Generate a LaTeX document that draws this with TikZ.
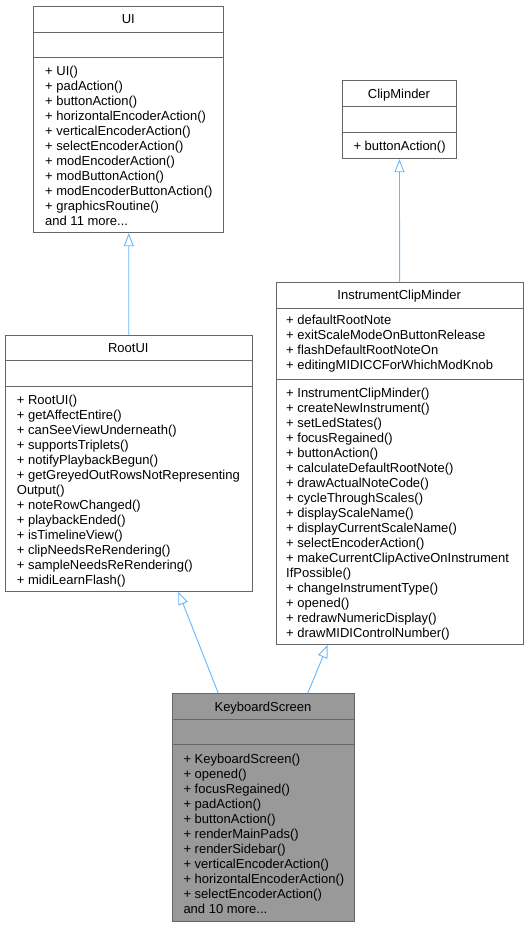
\documentclass[tikz,border=0pt]{standalone}
\usepackage{fontspec}
\setmainfont{Liberation Sans}
\usetikzlibrary{arrows.meta}
\definecolor{boxline}{HTML}{666666}
\definecolor{edgeblue}{HTML}{63B8FF}
\definecolor{ksfill}{HTML}{999999}
\begin{document}
\begin{tikzpicture}[x=1pt,y=-1pt,
  cls/.style={draw=boxline,line width=0.9pt,fill=white,inner sep=0pt,anchor=north west},
  divider/.style={draw=boxline,line width=0.9pt},
  title/.style={font=\fontsize{13}{15}\selectfont,inner sep=0pt,text height=9.5pt,text depth=2.7pt},
  members/.style={font=\fontsize{13}{15}\selectfont,inner sep=0pt,anchor=north west,align=left},
  inh/.style={draw=edgeblue,line width=0.9pt,-{Triangle[open,length=13pt,width=10pt]}}]
\useasboundingbox[fill=white] (0,0) rectangle (528,927);
\newcommand{\fl}{\rule{0pt}{10pt}}
% UI
\node[cls,minimum width=190pt,minimum height=226.6pt] (ui) at (33.3,5.7) {};
\draw[divider] (ui.west |- 0,32) -- (ui.east |- 0,32);
\draw[divider] (ui.west |- 0,57.3) -- (ui.east |- 0,57.3);
\node[title] (uit) at (128.3,20.2) {UI};
\node[members] (uim) at (45,65) {\fl+ UI()\\+ padAction()\\+ buttonAction()\\+ horizontalEncoderAction()\\+ verticalEncoderAction()\\+ selectEncoderAction()\\+ modEncoderAction()\\+ modButtonAction()\\+ modEncoderButtonAction()\\+ graphicsRoutine()\\and 11 more...};
% ClipMinder
\node[cls,minimum width=114.6pt,minimum height=78.3pt] (cm) at (341.7,80) {};
\draw[divider] (cm.west |- 0,106.7) -- (cm.east |- 0,106.7);
\draw[divider] (cm.west |- 0,132) -- (cm.east |- 0,132);
\node[title] (cmt) at (399,94.7) {ClipMinder};
\node[members] (cmm) at (353.3,140) {\fl+ buttonAction()};
% RootUI
\node[cls,minimum width=246.7pt,minimum height=256pt] (rootui) at (5,334.7) {};
\draw[divider] (rootui.west |- 0,360.7) -- (rootui.east |- 0,360.7);
\draw[divider] (rootui.west |- 0,386) -- (rootui.east |- 0,386);
\node[title] (rootuit) at (128.3,349) {RootUI};
\node[members] (rootuim) at (16.7,394) {\fl+ RootUI()\\+ getAffectEntire()\\+ canSeeViewUnderneath()\\+ supportsTriplets()\\+ notifyPlaybackBegun()\\+ getGreyedOutRowsNotRepresenting\\Output()\\+ noteRowChanged()\\+ playbackEnded()\\+ isTimelineView()\\+ clipNeedsReRendering()\\+ sampleNeedsReRendering()\\+ midiLearnFlash()};
% InstrumentClipMinder
\node[cls,minimum width=247pt,minimum height=362pt] (icm) at (275.7,282) {};
\draw[divider] (icm.west |- 0,308.3) -- (icm.east |- 0,308.3);
\draw[divider] (icm.west |- 0,379.3) -- (icm.east |- 0,379.3);
\node[title] (icmt) at (399.2,296.5) {InstrumentClipMinder};
\node[members] (icma) at (286,314) {\fl+ defaultRootNote\\+ exitScaleModeOnButtonRelease\\+ flashDefaultRootNoteOn\\+ editingMIDICCForWhichModKnob};
\node[members] (icmm) at (286,387.3) {\fl+ InstrumentClipMinder()\\+ createNewInstrument()\\+ setLedStates()\\+ focusRegained()\\+ buttonAction()\\+ calculateDefaultRootNote()\\+ drawActualNoteCode()\\+ cycleThroughScales()\\+ displayScaleName()\\+ displayCurrentScaleName()\\+ selectEncoderAction()\\+ makeCurrentClipActiveOnInstrument\\IfPossible()\\+ changeInstrumentType()\\+ opened()\\+ redrawNumericDisplay()\\+ drawMIDIControlNumber()};
% KeyboardScreen
\node[cls,fill=ksfill,minimum width=182.6pt,minimum height=227.4pt] (ks) at (171.7,693.3) {};
\draw[divider] (ks.west |- 0,719.3) -- (ks.east |- 0,719.3);
\draw[divider] (ks.west |- 0,744.3) -- (ks.east |- 0,744.3);
\node[title] (kst) at (263,707.6) {KeyboardScreen};
\node[members] (ksm) at (183.3,753) {\fl+ KeyboardScreen()\\+ opened()\\+ focusRegained()\\+ padAction()\\+ buttonAction()\\+ renderMainPads()\\+ renderSidebar()\\+ verticalEncoderAction()\\+ horizontalEncoderAction()\\+ selectEncoderAction()\\and 10 more...};
% inheritance
\draw[inh] (rootui.north) -- (ui.south);
\draw[inh] (icm.north) -- (cm.south);
\coordinate (k1) at ([xshift=46.6pt]ks.north west);
\coordinate (r1) at ([xshift=173.3pt]rootui.south west);
\coordinate (k2) at ([xshift=136pt]ks.north west);
\coordinate (i2) at ([xshift=52pt]icm.south west);
\draw[inh] (k1) -- (r1);
\draw[inh] (k2) -- (i2);
\end{tikzpicture}
\end{document}
